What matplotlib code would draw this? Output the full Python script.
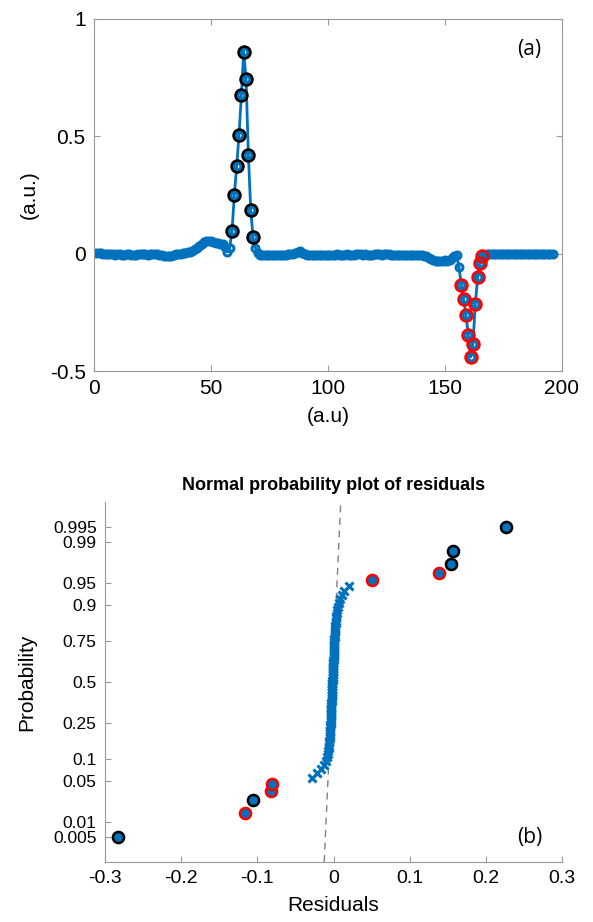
import matplotlib
matplotlib.use("Agg")
import matplotlib.pyplot as plt
from statistics import NormalDist

# ---- panel (a): signal ------------------------------------------------------
signal_y = [
    0.004, 0.003, 0.001, 0.000, -0.002, -0.001, 0.000, -0.003, -0.004, -0.002,
    -0.003, -0.005, -0.004, -0.003, -0.002, -0.004, -0.006, -0.005, -0.003, -0.002,
    -0.001, -0.003, -0.004, -0.002, 0.000, -0.001, -0.002, -0.004, -0.006, -0.008,
    -0.009, -0.010, -0.008, -0.005, -0.003, -0.002, 0.000, 0.002, 0.003, 0.006,
    0.008, 0.012, 0.018, 0.025, 0.033, 0.042, 0.050, 0.054, 0.055, 0.052,
    0.050, 0.047, 0.045, 0.043, 0.040, 0.030, 0.008, 0.025,
    0.097, 0.252, 0.372, 0.507, 0.674, 0.860, 0.745, 0.419, 0.187, 0.070,
    0.025, 0.002,
    -0.004, -0.006, -0.007, -0.006, -0.005, -0.006, -0.007, -0.006, -0.005, -0.004,
    -0.005, -0.004, -0.003, -0.002, 0.000, 0.004, 0.008, 0.010, 0.004, -0.002,
    -0.004, -0.005, -0.004, -0.005, -0.006, -0.005, -0.004, -0.005, -0.006, -0.005,
    -0.004, -0.005, -0.004, -0.003, -0.004, -0.005, -0.004, -0.003, -0.004, -0.005,
    -0.004, -0.003, -0.002, -0.003, -0.004, -0.003, -0.004, -0.005, -0.004, -0.003,
    -0.002, -0.003, -0.004, -0.003, -0.002, -0.003, -0.004, -0.005, -0.004, -0.005,
    -0.006, -0.005, -0.006, -0.005, -0.006, -0.005, -0.006, -0.005, -0.006, -0.007,
    -0.008, -0.012, -0.018,
    -0.024, -0.028, -0.030, -0.031, -0.030, -0.030, -0.029, -0.030, -0.026, -0.020,
    -0.010, -0.004,
    -0.056, -0.132, -0.194, -0.262, -0.346, -0.440, -0.383, -0.215, -0.101, -0.041,
    -0.012, -0.004, -0.002, -0.001, -0.002, -0.003, -0.002, -0.001, -0.002, -0.003,
    -0.002, -0.001, -0.002, -0.002, -0.003, -0.002, -0.001, -0.002, -0.003, -0.002,
    -0.001, -0.002, -0.003, -0.002, -0.001, -0.002, -0.003, -0.002, -0.001, -0.002,
    -0.002,
]
signal_x = list(range(1, len(signal_y) + 1))
black_x = [59, 60, 61, 62, 63, 64, 65, 66, 67, 68]
red_x = [157, 158, 159, 160, 161, 162, 163, 164, 165, 166]

# ---- panel (b): residuals ---------------------------------------------------
resid_black = [-0.283, -0.106, 0.154, 0.157, 0.226]
resid_red = [-0.116, -0.082, -0.081, 0.051, 0.138]
resid_rest = [
    -0.028, -0.022, -0.016, -0.012, -0.010, -0.0085, -0.0075, -0.0068, -0.0063, -0.0059,
    -0.0056, -0.0053, -0.0050, -0.0048, -0.0046, -0.0044, -0.0043, -0.0041, -0.0040, -0.0039,
    -0.0038, -0.0037, -0.0036, -0.0035, -0.0034, -0.0033, -0.0032, -0.0031, -0.0030, -0.0029,
    -0.0028, -0.0027, -0.0026, -0.0025, -0.0024, -0.0023, -0.0022, -0.0021, -0.0020, -0.0019,
    -0.0019, -0.0018, -0.0017, -0.0016, -0.0015, -0.0014, -0.0013, -0.0012, -0.0011, -0.0010,
    -0.0009, -0.0008, -0.0007, -0.0006, -0.0005, -0.0004, -0.0003, -0.0002, -0.0001, 0.0000,
    0.0001, 0.0002, 0.0003, 0.0004, 0.0005, 0.0006, 0.0007, 0.0008, 0.0009, 0.0010,
    0.0011, 0.0012, 0.0014, 0.0015, 0.0017, 0.0019, 0.0021, 0.0023, 0.0026, 0.0029,
    0.0033, 0.0038, 0.0044, 0.0052, 0.0062, 0.0075, 0.0090, 0.0110, 0.0140, 0.0198,
]
prob_ticks = [0.005, 0.01, 0.05, 0.1, 0.25, 0.5, 0.75, 0.9, 0.95, 0.99, 0.995]
prob_labels = ["0.005", "0.01", "0.05", "0.1", "0.25", "0.5", "0.75", "0.9",
               "0.95", "0.99", "0.995"]

BLUE = "#0072BD"
SPINE = "#9a9a9a"
plt.rcParams["font.family"] = ["Liberation Sans", "DejaVu Sans"]

fig = plt.figure(figsize=(5.93, 9.22), dpi=100)

# ---- (a) ----
ax1 = fig.add_axes([0.1585, 0.5976, 0.789, 0.3818])
ax1.plot(signal_x, signal_y, "-o", color=BLUE, lw=2.0, ms=5.0, mew=2.2,
         mfc="none", mec=BLUE, zorder=2)
ax1.plot(black_x, [signal_y[i - 1] for i in black_x], "o", ms=8.5, mew=1.9,
         mfc="none", mec="black", zorder=3)
ax1.plot(red_x, [signal_y[i - 1] for i in red_x], "o", ms=8.5, mew=1.9,
         mfc="none", mec="red", zorder=3)
ax1.set_xlim(0, 200)
ax1.set_ylim(-0.5, 1)
ax1.set_xticks([0, 50, 100, 150, 200])
ax1.set_yticks([-0.5, 0, 0.5, 1])
ax1.set_yticklabels(["-0.5", "0", "0.5", "1"])
ax1.tick_params(direction="in", length=4, color=SPINE, labelsize=15,
                top=True, right=True, pad=6)
for s in ax1.spines.values():
    s.set_color(SPINE)
ax1.set_xlabel("(a.u)", fontsize=15, labelpad=6)
ax1.set_ylabel("(a.u.)", fontsize=15, labelpad=8)
ax1.text(186, 0.87, "(a)", fontsize=15, ha="center", va="center",
         family=["Open Sans", "DejaVu Sans"])

# ---- (b) ----
nd = NormalDist()
allres = sorted([(v, "k") for v in resid_black] + [(v, "r") for v in resid_red]
                + [(v, "b") for v in resid_rest])
n = len(allres)
zs = [nd.inv_cdf((i + 0.5) / n) for i in range(n)]

ax2 = fig.add_axes([0.1771, 0.0651, 0.7707, 0.3904])
# reference line through the quartiles
vals = [v for v, _ in allres]
q1 = 0.5 * (vals[24] + vals[25])
q3 = 0.5 * (vals[74] + vals[75])
z1, z3 = nd.inv_cdf(0.25), nd.inv_cdf(0.75)
slope = (q3 - q1) / (z3 - z1)
zlim = 2.99
ax2.plot([q1 + slope * (-zlim - z1), q1 + slope * (zlim - z1)], [-zlim, zlim],
         ls=(0, (5, 4)), color="#808080", lw=1.0, zorder=1)
bx = [v for v, c in allres if c == "b"]
bz = [z for (v, c), z in zip(allres, zs) if c == "b"]
ax2.plot(bx, bz, "x", color=BLUE, ms=6, mew=2.2, zorder=2)
for col, ec in (("k", "black"), ("r", "red")):
    cx = [v for v, c in allres if c == col]
    cz = [z for (v, c), z in zip(allres, zs) if c == col]
    ax2.plot(cx, cz, "o", ms=8, mew=1.8, mfc=BLUE, mec=ec, zorder=3)
ax2.set_xlim(-0.3, 0.3)
ax2.set_ylim(-zlim, zlim)
ax2.set_xticks([-0.3, -0.2, -0.1, 0, 0.1, 0.2, 0.3])
ax2.set_xticklabels(["-0.3", "-0.2", "-0.1", "0", "0.1", "0.2", "0.3"])
ax2.set_yticks([nd.inv_cdf(p) for p in prob_ticks])
ax2.set_yticklabels(prob_labels)
ax2.tick_params(axis="x", direction="in", length=4, color=SPINE, labelsize=14, pad=6)
ax2.tick_params(axis="y", direction="in", length=4, color=SPINE, labelsize=12.5, pad=6)
ax2.spines["top"].set_visible(False)
ax2.spines["right"].set_visible(False)
for s in ("left", "bottom"):
    ax2.spines[s].set_color(SPINE)
ax2.set_xlabel("Residuals", fontsize=15, labelpad=6)
ax2.set_ylabel("Probability", fontsize=15, labelpad=12)
ax2.set_title("Normal probability plot of residuals", fontsize=13,
              fontweight="bold", pad=9)
ax2.text(0.257, -2.59, "(b)", fontsize=15, ha="center", va="center",
         family=["Open Sans", "DejaVu Sans"])

fig.savefig("out.png", dpi=100)
